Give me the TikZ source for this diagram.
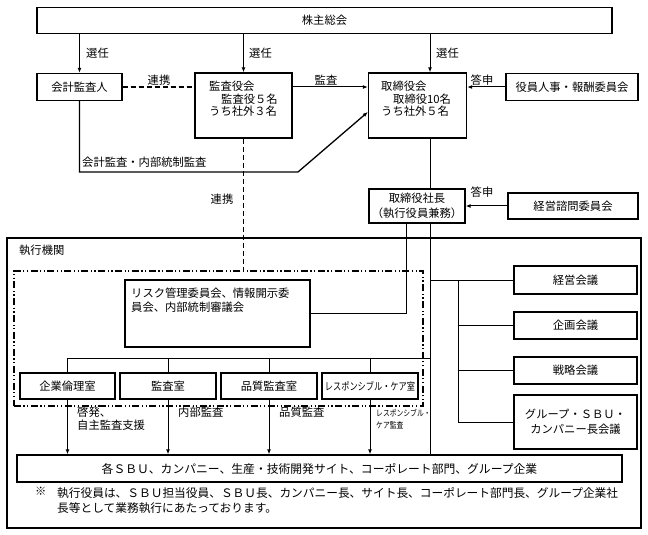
\documentclass[tikz,border=0pt]{standalone}
\usepackage{fontspec}
\setmainfont{Noto Sans CJK JP}
\usepackage{graphicx}
\usetikzlibrary{arrows.meta}
\begin{document}
\begin{tikzpicture}[x=1bp,y=-1bp,
  every node/.style={font=\fontsize{11.3bp}{13bp}\selectfont, inner sep=0pt},
  box/.style={draw, line width=1.3bp, minimum width=#1},
  ln/.style={line width=1bp},
  arr/.style={line width=1bp, -{Latex[length=5bp,width=4bp]}},
  lbl/.style={anchor=west},
  dashdot/.style={draw, line width=1.2bp, dash pattern=on 7bp off 2.5bp on 1.2bp off 2.5bp on 1.2bp off 2.5bp}
]
\useasboundingbox (0,0) rectangle (648,535);
% coordinates
\coordinate (tx) at (430,0);
\coordinate (sx) at (406,0);
\coordinate (rx) at (458,0);
\coordinate (ay) at (0,87);
\coordinate (ty) at (0,112);
\coordinate (by) at (0,358);
\coordinate (bend) at (298,172);

% top boxes
\node[box=575bp, minimum height=26bp] (soukai) at (324.5,20.5) {株主総会};
\node[box=85bp, minimum height=27bp] (kaikei) at (79.5,87) {会計監査人};
\node[box=97bp, minimum height=65bp] (kansa) at (243.5,105.5) {};
\node[anchor=north west, align=left, font=\fontsize{11.3bp}{12.5bp}\selectfont] (kansat) at (209,81) {監査役会\\\hspace{12bp}監査役５名\\うち社外３名};
\node[box=98bp, minimum height=65bp] (tori) at (417.5,105.5) {};
\node[anchor=north west, align=left, font=\fontsize{11.3bp}{12.5bp}\selectfont] (torit) at (381,81) {取締役会\\\hspace{12bp}取締役10名\\うち社外５名};
\node[box=132bp, minimum height=27bp] (yakuin) at (572,87) {役員人事・報酬委員会};
\node[box=96bp, minimum height=34bp, align=center, font=\fontsize{11.3bp}{15bp}\selectfont] (shacho) at (417,206) {取締役社長\\（執行役員兼務）};
\node[box=130bp, minimum height=26bp] (shimon) at (573,206) {経営諮問委員会};

% executive area
\node[box=634bp, minimum height=290bp] (outer) at (324,383) {};
\node[lbl] (shikko) at (19,250) {執行機関};
\node[dashdot, minimum width=409bp, minimum height=135bp] (dd) at (218.5,338.5) {};
\node[box=185bp, minimum height=67bp] (risk) at (217.5,313.5) {};
\node[anchor=north west, align=left, font=\fontsize{11.3bp}{14bp}\selectfont] (riskt) at (131,288) {リスク管理委員会、情報開示委\\員会、内部統制審議会};
\node[box=95bp, minimum height=26bp] (rinri) at (67.5,386) {企業倫理室};
\node[box=96bp, minimum height=26bp] (kshitsu) at (168,386) {監査室};
\node[box=96bp, minimum height=26bp] (hshitsu) at (269,386) {品質監査室};
\node[box=96bp, minimum height=26bp] (rc) at (370,386) {\scalebox{0.78}[1]{\fontsize{10.5bp}{12bp}\selectfont レスポンシブル・ケア室}};
\node[box=605bp, minimum height=27bp, font=\fontsize{11.8bp}{13bp}\selectfont] (sbu) at (319.5,468.5) {各ＳＢＵ、カンパニー、生産・技術開発サイト、コーポレート部門、グループ企業};

\node[box=123bp, minimum height=28bp] (keieik) at (575.5,280) {経営会議};
\node[box=123bp, minimum height=27bp] (kikaku) at (575.5,325.5) {企画会議};
\node[box=123bp, minimum height=27bp] (senryaku) at (575.5,370.5) {戦略会議};
\node[box=123bp, minimum height=54bp, align=center, font=\fontsize{11.3bp}{15bp}\selectfont] (group) at (575.5,422) {グループ・ＳＢＵ・\\カンパニー長会議};

\node[anchor=north west] (kome) at (35,487) {※};
\node[anchor=north west, align=left, font=\fontsize{11.7bp}{15bp}\selectfont] (note) at (57,487) {執行役員は、ＳＢＵ担当役員、ＳＢＵ長、カンパニー長、サイト長、コーポレート部門長、グループ企業社\\長等として業務執行にあたっております。};

% connectors top
\draw[arr] (soukai.south -| kaikei.north) -- (kaikei.north);
\draw[arr] (soukai.south -| kansa.north) -- (kansa.north);
\draw[arr] (soukai.south -| tx) -- (tori.north -| tx);
\node[lbl] (sen1) at (86,53) {選任};
\node[lbl] (sen2) at (249,53) {選任};
\node[lbl] (sen3) at (436,53) {選任};
\draw[line width=1.3bp, dash pattern=on 5bp off 3bp] (kaikei.east) -- (kansa.west |- kaikei.east);
\node (renkei1) at (159,80) {連携};
\draw[arr] (kansa.east |- ay) -- (tori.west |- ay);
\node (kansal) at (326,80) {監査};
\draw[arr] (yakuin.west) -- (tori.east |- yakuin.west);
\node (toshin1) at (482,80) {答申};
\draw[arr, line width=1.3bp] (kaikei.south) -- (kaikei.south |- bend) -- (bend) -- (tori.west |- ty);
\node[lbl] (kaikeil) at (82,162) {会計監査・内部統制監査};
\draw[ln, dash pattern=on 5bp off 3bp] (kansa.south) -- (kansa.south |- dd.north);
\node (renkei2) at (222,199) {連携};
\draw[ln] (tori.south -| tx) -- (shacho.north -| tx);
\draw[arr] (shimon.west) -- (shacho.east |- shimon.west);
\node (toshin2) at (482,192) {答申};

% executive connectors
\draw[ln] (shacho.south -| sx) |- (risk.east);
\draw[ln] (shacho.south -| tx) -- (sbu.north -| tx);
\draw[ln] (tx |- keieik.west) -- (keieik.west);
\draw[ln] (rx |- keieik.west) -- (rx |- group.west) -- (group.west);
\draw[ln] (rx |- kikaku.west) -- (kikaku.west);
\draw[ln] (rx |- senryaku.west) -- (senryaku.west);
\draw[ln] (rinri.north |- by) -- (tx |- by);
\foreach \b in {rinri,kshitsu,hshitsu,rc} {
  \draw[ln] (\b.north |- by) -- (\b.north);
  \draw[arr] (\b.south) -- (sbu.north -| \b.south);
}
\node[anchor=north west, align=left, font=\fontsize{11.3bp}{13bp}\selectfont] (keihatsu) at (77,407) {啓発、\\自主監査支援};
\node[anchor=north west] (naibu) at (178,407) {内部監査};
\node[anchor=north west] (hinshitsu) at (279,407) {品質監査};
\node[anchor=north west, align=left] (rcl) at (376,408) {\scalebox{0.8}[1]{\fontsize{8.5bp}{12bp}\selectfont\begin{tabular}{@{}l@{}}レスポンシブル・\\ケア監査\end{tabular}}};
\end{tikzpicture}
\end{document}
